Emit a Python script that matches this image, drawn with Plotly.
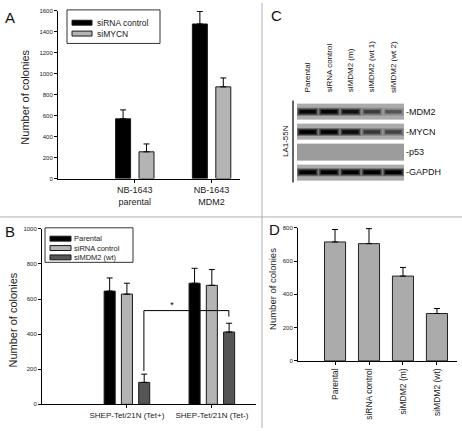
import plotly.graph_objects as go

W, H = 462, 431
FONT = "Liberation Sans, Arial, sans-serif"

# ---------------- Panel A data ----------------
a_categories = ["NB-1643<br>parental", "NB-1643<br>MDM2"]
a_series = ["siRNA control", "siMYCN"]
a_sirna_control = [570, 1475]
a_sirna_control_err = [85, 120]
a_simycn = [255, 875]
a_simycn_err = [75, 85]

# ---------------- Panel B data ----------------
b_categories = ["SHEP-Tet/21N (Tet+)", "SHEP-Tet/21N (Tet-)"]
b_series = ["Parental", "siRNA control", "siMDM2 (wt)"]
b_parental = [645, 690]
b_parental_err = [75, 85]
b_sirna_control = [628, 678]
b_sirna_control_err = [62, 90]
b_simdm2_wt = [125, 412]
b_simdm2_wt_err = [47, 50]
b_bracket_left_bottom = 190
b_bracket_top = 534
b_bracket_right_bottom = 500
b_star_value = 560

# ---------------- Panel C data (western blot) ----------------
c_lanes = ["Parental", "siRNA control", "siMDM2 (m)", "siMDM2 (wt 1)", "siMDM2 (wt 2)"]
c_proteins = ["MDM2", "MYCN", "p53", "GAPDH"]
c_background = [0.2, 0.2, 0.27, 0.2]
c_band_mdm2 = [0.95, 0.95, 0.85, 0.5, 0.3]
c_band_mycn = [1.0, 0.97, 0.9, 0.55, 0.45]
c_band_p53 = [0.0, 0.0, 0.0, 0.0, 0.0]
c_band_gapdh = [1.0, 1.0, 1.0, 1.0, 1.0]
c_cell_line = "LA1-55N"

# ---------------- Panel D data ----------------
d_categories = ["Parental", "siRNA control", "siMDM2 (m)", "siMDM2 (wt)"]
d_values = [715, 705, 510, 285]
d_err = [75, 90, 52, 30]

BLACK = "black"
LIGHT = "#b4b4b4"
DARK = "#555555"

fig = go.Figure()

def px_x(p):
    return p / W

def px_y(p):
    return 1 - p / H

def err(arr):
    return dict(type="data", array=arr, arrayminus=[0] * len(arr), symmetric=False,
                color="black", thickness=1, width=3)

# ---- Panel A bars
a_colors = [BLACK, LIGHT]
for name, vals, e, col in zip(a_series, [a_sirna_control, a_simycn],
                              [a_sirna_control_err, a_simycn_err], a_colors):
    fig.add_trace(go.Bar(x=[1, 2], y=vals, name=name,
                         marker=dict(color=col, line=dict(color="#1a1a1a", width=1)),
                         error_y=err(e), xaxis="x", yaxis="y", showlegend=False))

# ---- Panel B bars
b_colors = [BLACK, LIGHT, DARK]
for name, vals, e, col in zip(b_series, [b_parental, b_sirna_control, b_simdm2_wt],
                              [b_parental_err, b_sirna_control_err, b_simdm2_wt_err], b_colors):
    fig.add_trace(go.Bar(x=[1, 2], y=vals, name=name,
                         marker=dict(color=col, line=dict(color="#1a1a1a", width=1)),
                         error_y=err(e), xaxis="x2", yaxis="y2", showlegend=False))

# significance bracket between the two siMDM2 (wt) bars
fig.add_trace(go.Scatter(x=[1.2, 1.2, 2.2, 2.2],
                         y=[b_bracket_left_bottom, b_bracket_top, b_bracket_top, b_bracket_right_bottom],
                         mode="lines", line=dict(color="black", width=1),
                         xaxis="x2", yaxis="y2", showlegend=False, hoverinfo="skip"))
fig.add_trace(go.Scatter(x=[1.53], y=[b_star_value], mode="text", text=["*"],
                         textfont=dict(size=9, color="black", family=FONT),
                         xaxis="x2", yaxis="y2", showlegend=False, hoverinfo="skip"))

# ---- Panel D bars
fig.add_trace(go.Bar(x=[1, 2, 3, 4], y=d_values, width=0.62,
                     marker=dict(color="#ababab", line=dict(color="#222", width=1)),
                     error_y=err(d_err), xaxis="x3", yaxis="y3", showlegend=False))

# ---- Panel C western blot
lane_idx = list(range(1, len(c_lanes) + 1))
row_idx = list(range(1, len(c_proteins) + 1))
fig.add_trace(go.Heatmap(x=lane_idx, y=row_idx,
                         z=[[b] * len(c_lanes) for b in c_background],
                         zmin=0, zmax=1, colorscale=[[0, "#d6d6d6"], [1, "#000000"]],
                         showscale=False, ygap=4, xgap=0, hoverinfo="skip",
                         xaxis="x4", yaxis="y4"))
bands = [c_band_mdm2, c_band_mycn, c_band_p53, c_band_gapdh]
for r, (row, bg) in enumerate(zip(bands, c_background), start=1):
    base = 214 * (1 - bg)
    for l, v in enumerate(row, start=1):
        if v <= 0:
            continue
        soft = int(base * (1 - 0.35 * v))
        mid = int(base * (1 - 0.7 * v))
        core = int(base * (1 - v) * 0.6 + 20 * (1 - v))
        for half, wdt, c in [(0.5, 8, soft), (0.45, 6, mid), (0.38, 3.5, core)]:
            fig.add_trace(go.Scatter(x=[l - half, l + half], y=[r, r], mode="lines",
                                     line=dict(color=f"rgb({c},{c},{c})", width=wdt),
                                     xaxis="x4", yaxis="y4", showlegend=False, hoverinfo="skip"))

annotations = []
shapes = []

for l, name in zip(lane_idx, c_lanes):
    annotations.append(dict(x=l, y=px_y(93), xref="x4", yref="paper", text=name,
                            textangle=-90, showarrow=False, xanchor="center", yanchor="bottom",
                            font=dict(size=8, family=FONT, color="#111")))
for r, name in zip(row_idx, c_proteins):
    annotations.append(dict(x=5.5, y=r, xref="x4", yref="y4", text="-" + name,
                            showarrow=False, xanchor="left", yanchor="middle",
                            font=dict(size=9, family=FONT, color="#111")))
annotations.append(dict(x=px_x(285), y=px_y(140), xref="paper", yref="paper", text=c_cell_line,
                        textangle=-90, showarrow=False, xanchor="center", yanchor="middle",
                        font=dict(size=8, family=FONT, color="#111")))

# axis titles
for (xp, yp, fs) in [(25, 96, 11), (13, 322, 11), (273, 290, 9.5)]:
    annotations.append(dict(x=px_x(xp), y=px_y(yp), xref="paper", yref="paper",
                            text="Number of colonies", textangle=-90, showarrow=False,
                            xanchor="center", yanchor="middle",
                            font=dict(size=fs, family=FONT, color="#222")))
# panel letters
for (t, xp, yp) in [("A", 10, 15), ("B", 10, 232), ("C", 276, 13), ("D", 274, 230)]:
    annotations.append(dict(x=px_x(xp), y=px_y(yp), xref="paper", yref="paper", text=t,
                            showarrow=False, xanchor="center", yanchor="middle",
                            font=dict(size=15, family=FONT, color="#111")))

# legends (boxed key with flat swatches, as in the reference)
def add_legend(names, colors, box, sw_x, txt_x, ys, fsize):
    x0, y0, x1, y1 = box
    shapes.append(dict(type="rect", xref="paper", yref="paper",
                       x0=px_x(x0), x1=px_x(x1), y0=px_y(y1), y1=px_y(y0),
                       line=dict(color="#333", width=1), fillcolor="white"))
    for name, col, yy in zip(names, colors, ys):
        shapes.append(dict(type="rect", xref="paper", yref="paper",
                           x0=px_x(sw_x[0]), x1=px_x(sw_x[1]),
                           y0=px_y(yy + 2.5), y1=px_y(yy - 2.5),
                           line=dict(color="#1a1a1a", width=1), fillcolor=col))
        annotations.append(dict(x=px_x(txt_x), y=px_y(yy), xref="paper", yref="paper",
                                text=name, showarrow=False, xanchor="left", yanchor="middle",
                                font=dict(size=fsize, family=FONT, color="#222")))

add_legend(a_series, a_colors, (67, 7, 160, 41), (72, 92), 95, [20, 31], 8.5)
add_legend(b_series, b_colors, (45, 228, 133, 263), (50, 71), 72, [239, 248.5, 258], 7.5)

shapes += [
    dict(type="line", xref="paper", yref="paper", x0=0, x1=1, y0=px_y(217), y1=px_y(217),
         line=dict(color="#b0b0b0", width=1)),
    dict(type="line", xref="paper", yref="paper", x0=px_x(262), x1=px_x(262), y0=0, y1=1,
         line=dict(color="#b0b0b0", width=1)),
    dict(type="line", xref="paper", yref="paper", x0=px_x(293), x1=px_x(293),
         y0=px_y(182), y1=px_y(99), line=dict(color="#333", width=1.5)),
]

axis_common = dict(showline=True, linecolor="black", linewidth=1, ticks="outside",
                   ticklen=3, tickcolor="black", showgrid=False, zeroline=False,
                   tickfont=dict(size=6, family=FONT, color="#222"))

fig.update_layout(
    width=W, height=H, margin=dict(l=0, r=0, t=0, b=0),
    paper_bgcolor="white", plot_bgcolor="white",
    barmode="group", bargap=0.39, bargroupgap=0.36,
    font=dict(family=FONT, color="#222"),
    showlegend=False,
    xaxis=dict(axis_common, domain=[px_x(58), px_x(240)], range=[0, 2.37], anchor="y",
               tickvals=[1, 2], ticktext=a_categories,
               tickfont=dict(size=9, family=FONT, color="#222")),
    yaxis=dict(axis_common, domain=[px_y(178), px_y(8)], range=[0, 1600], dtick=200, anchor="x"),
    xaxis2=dict(axis_common, domain=[px_x(42), px_x(256)], range=[0, 2.52], anchor="y2",
                tickvals=[1, 2], ticktext=b_categories,
                tickfont=dict(size=8, family=FONT, color="#222")),
    yaxis2=dict(axis_common, domain=[px_y(407), px_y(229)], range=[0, 1000], dtick=200, anchor="x2"),
    xaxis3=dict(axis_common, domain=[px_x(298), px_x(457)], range=[-0.09, 4.59], anchor="y3",
                tickvals=[1, 2, 3, 4], ticktext=d_categories, tickangle=-90,
                tickfont=dict(size=8.5, family=FONT, color="#222")),
    yaxis3=dict(axis_common, domain=[px_y(363), px_y(228)], range=[0, 800], dtick=200, anchor="x3"),
    xaxis4=dict(domain=[px_x(297), px_x(404)], range=[0.5, 5.5], visible=False, anchor="y4"),
    yaxis4=dict(domain=[px_y(182), px_y(100)], range=[4.5, 0.5], visible=False, anchor="x4"),
    annotations=annotations,
    shapes=shapes,
)

fig.write_html("out.html", config={"displayModeBar": False},
               post_script="document.body.style.margin='0';")
